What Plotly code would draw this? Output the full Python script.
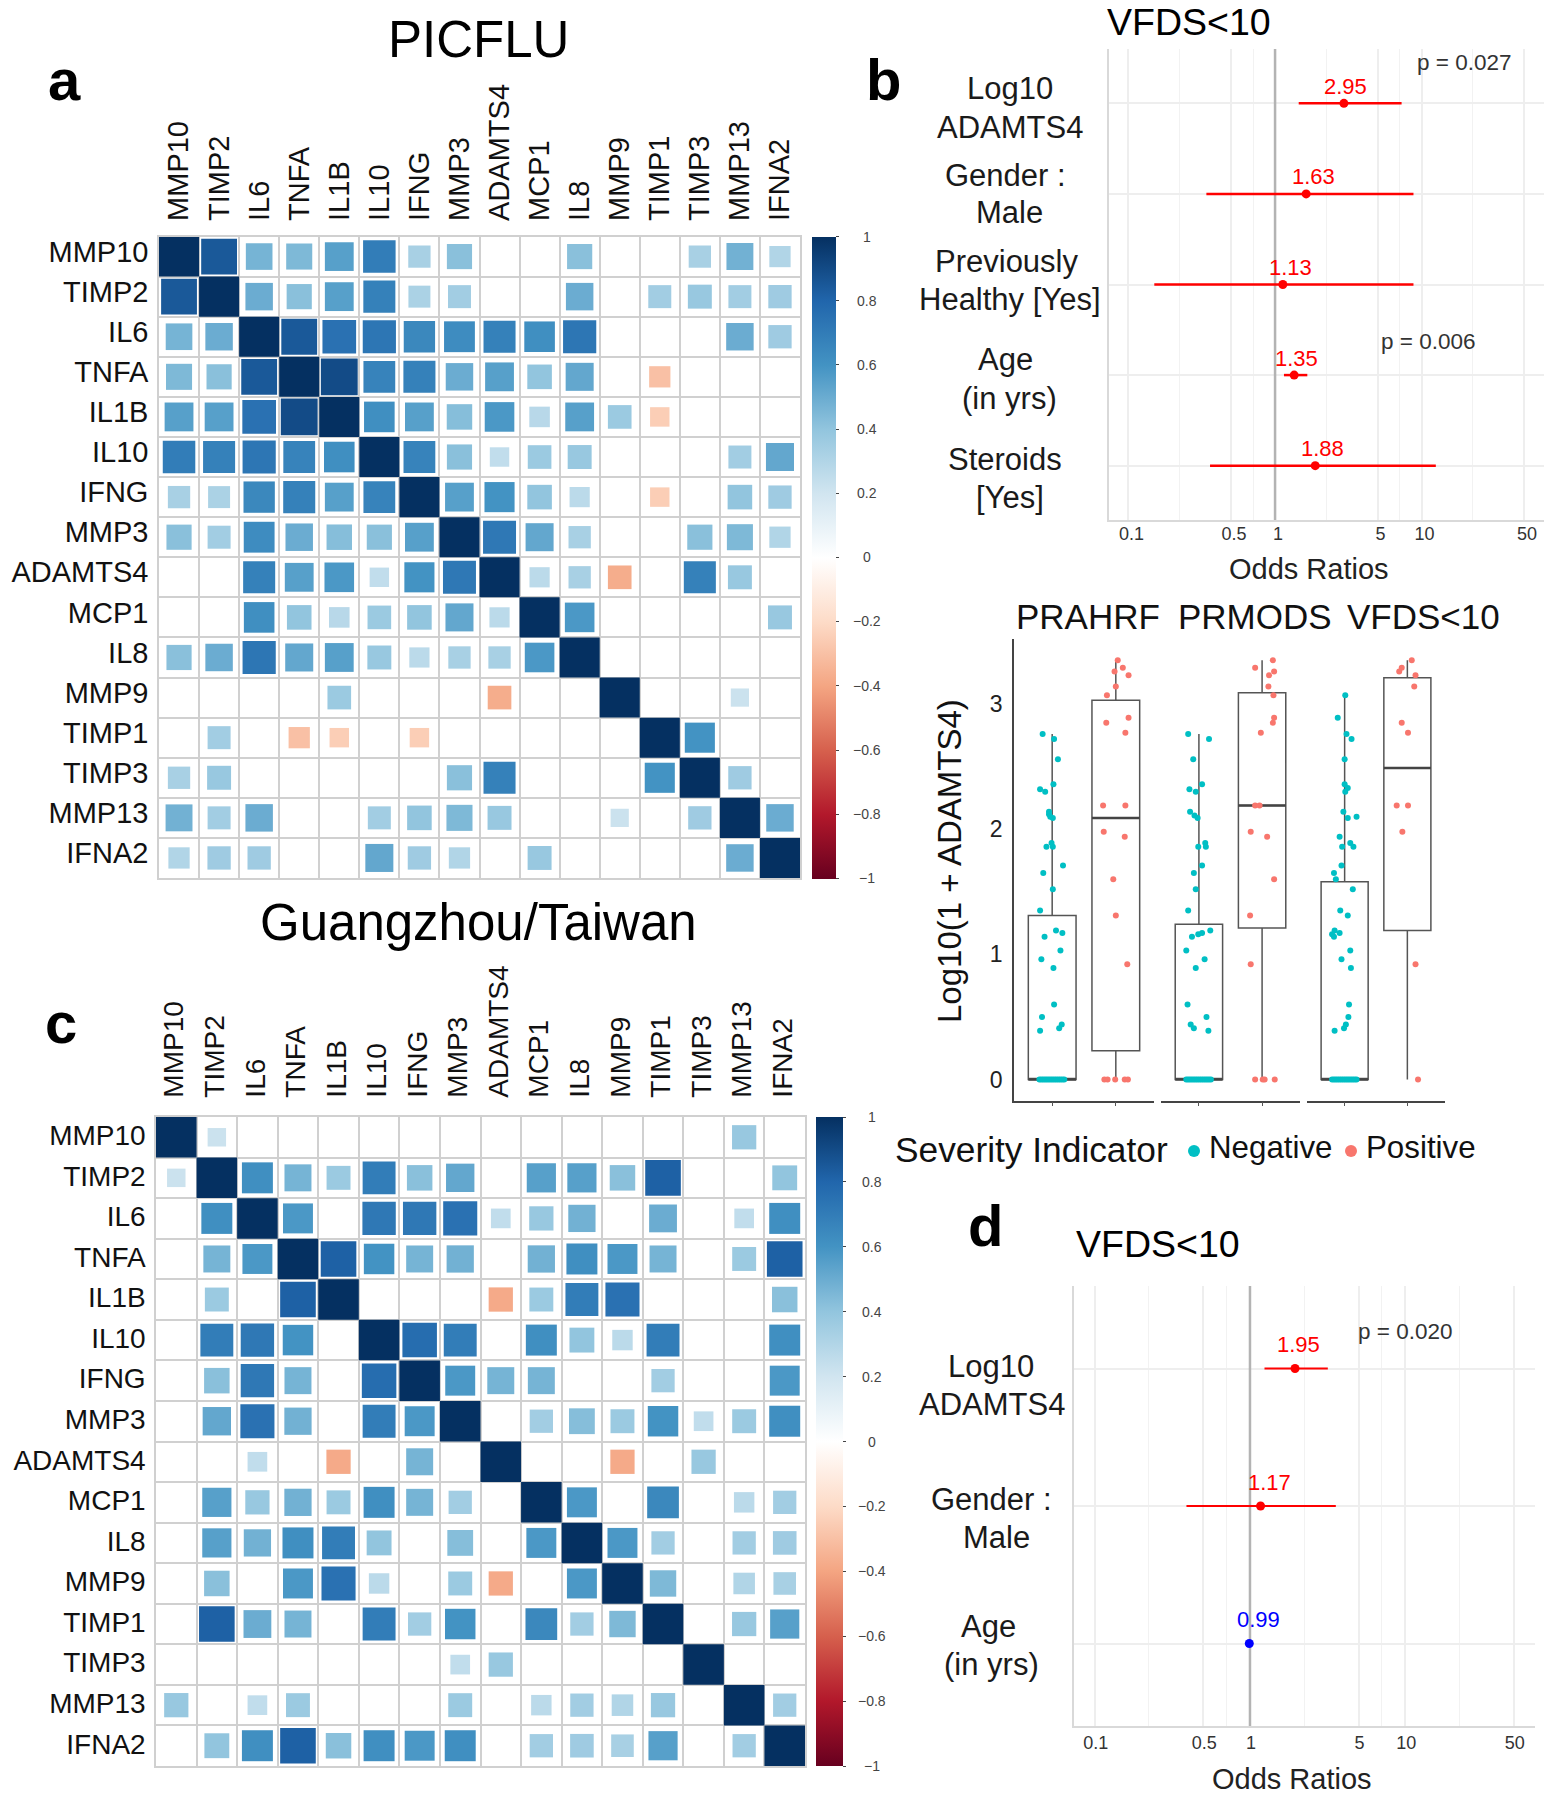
import math
import plotly.graph_objects as go

W, H = 1554, 1800

genes = ["MMP10", "TIMP2", "IL6", "TNFA", "IL1B", "IL10", "IFNG", "MMP3",
         "ADAMTS4", "MCP1", "IL8", "MMP9", "TIMP1", "TIMP3", "MMP13", "IFNA2"]

picflu_r = [
    [1, .85, .47, .45, .55, .70, .33, .42, 0, 0, .42, 0, 0, .33, .48, .30],
    [.85, 1, .50, .42, .55, .68, .32, .35, 0, 0, .50, 0, .35, .38, .35, .36],
    [.47, .50, 1, .85, .75, .73, .65, .63, .68, .62, .73, 0, 0, 0, .50, .36],
    [.45, .42, .85, 1, .90, .67, .68, .50, .55, .40, .52, 0, -.30, 0, 0, 0],
    [.55, .55, .75, .90, 1, .62, .55, .43, .58, .28, .55, .37, -.25, 0, 0, 0],
    [.70, .68, .73, .67, .62, 1, .67, .42, .25, .37, .38, 0, 0, 0, .35, .52],
    [.33, .32, .65, .68, .55, .67, 1, .55, .60, .40, .27, 0, -.25, 0, .40, .36],
    [.42, .35, .63, .50, .43, .42, .55, 1, .72, .52, .33, 0, 0, .42, .45, .30],
    [0, 0, .68, .55, .58, .25, .60, .72, 1, .27, .33, -.37, 0, .68, .38, 0],
    [0, 0, .62, .40, .28, .37, .40, .52, .27, 1, .58, 0, 0, 0, 0, .38],
    [.42, .50, .73, .52, .55, .38, .27, .33, .33, .58, 1, 0, 0, 0, 0, 0],
    [0, 0, 0, 0, .37, 0, 0, 0, -.37, 0, 0, 1, 0, 0, .22, 0],
    [0, .35, 0, -.30, -.25, 0, -.25, 0, 0, 0, 0, 0, 1, .60, 0, 0],
    [.33, .38, 0, 0, 0, 0, 0, .42, .68, 0, 0, 0, .60, 1, .36, 0],
    [.48, .35, .50, 0, 0, .35, .40, .45, .38, 0, 0, .22, 0, .36, 1, .50],
    [.30, .36, .36, 0, 0, .52, .36, .30, 0, .38, 0, 0, 0, 0, .50, 1],
]

guangzhou_r = [
    [1, .22, 0, 0, 0, 0, 0, 0, 0, 0, 0, 0, 0, 0, .38, 0],
    [.22, 1, .62, .47, .37, .70, .42, .52, 0, .55, .55, .42, .82, 0, 0, .40],
    [0, .62, 1, .58, 0, .72, .72, .75, .25, .38, .48, 0, .50, 0, .25, .62],
    [0, .47, .58, 1, .82, .60, .47, .48, 0, .48, .62, .58, .47, 0, .37, .82],
    [0, .37, 0, .82, 1, 0, 0, 0, -.38, .37, .70, .75, 0, 0, 0, .42],
    [0, .70, .72, .60, 0, 1, .77, .70, 0, .62, .40, .27, .70, 0, 0, .62],
    [0, .42, .72, .47, 0, .77, 1, .58, .47, .47, 0, 0, .35, 0, 0, .58],
    [0, .52, .75, .48, 0, .70, .58, 1, 0, .35, .43, .37, .60, .25, .37, .62],
    [0, 0, .25, 0, -.38, 0, .47, 0, 1, 0, 0, -.38, 0, .38, 0, 0],
    [0, .55, .38, .48, .37, .62, .47, .35, 0, 1, .58, 0, .65, 0, .27, .35],
    [0, .55, .48, .62, .70, .40, 0, .43, 0, .58, 1, .58, .35, 0, .35, .36],
    [0, .42, 0, .58, .75, .27, 0, .37, -.38, 0, .58, 1, .45, 0, .30, .33],
    [0, .82, .50, .47, 0, .70, .35, .60, 0, .65, .35, .45, 1, 0, .38, .55],
    [0, 0, 0, 0, 0, 0, 0, .25, .38, 0, 0, 0, 0, 1, 0, 0],
    [.38, 0, .25, .37, 0, 0, 0, .37, 0, .27, .35, .30, .38, 0, 1, .35],
    [0, .40, .62, .82, .42, .62, .58, .62, 0, .35, .36, .33, .55, 0, .35, 1],
]

corr_ticks = [1, .8, .6, .4, .2, 0, -.2, -.4, -.6, -.8, -1]
corr_tick_text = ["1", "0.8", "0.6", "0.4", "0.2", "0", "\u22120.2", "\u22120.4", "\u22120.6", "\u22120.8", "\u22121"]

or_ticks = [0.1, 0.5, 1, 5, 10, 50]
or_tick_text = ["0.1", "0.5", "1", "5", "10", "50"]
or_minor = [0.2236, 0.7071, 2.236, 7.071, 22.36]

b_or = [2.95, 1.63, 1.13, 1.35, 1.88]
b_lo = [1.45, 0.34, 0.15, 1.15, 0.36]
b_hi = [7.3, 8.8, 8.8, 1.66, 12.5]
b_labels = [["Log10", "ADAMTS4"], ["Gender :", "Male"], ["Previously", "Healthy [Yes]"],
            ["Age", "(in yrs)"], ["Steroids", "[Yes]"]]
d_or = [1.95, 1.17, 0.99]
d_lo = [1.24, 0.39, 0.98]
d_hi = [3.17, 3.57, 1.00]
d_colors = ["#ff0000", "#ff0000", "#0000ff"]
d_labels = [["Log10", "ADAMTS4"], ["Gender :", "Male"], ["Age", "(in yrs)"]]

facets = ["PRAHRF", "PRMODS", "VFDS<10"]
# box statistics per facet: [negative, positive]
box_q1 = [[0, .23], [0, 1.21], [0, 1.19]]
box_med = [[0, 2.09], [0, 2.19], [0, 2.49]]
box_q3 = [[1.31, 3.03], [1.24, 3.09], [1.58, 3.21]]
box_low = [[0, 0], [0, 0], [0, 0]]
box_high = [[2.76, 3.35], [2.76, 3.35], [3.07, 3.35]]

zero_jitter = [-.20, -.17, -.14, -.11, -.08, -.05, -.02, .01, .04, .07, .10, .13, .16, .19]

neg_jitter = [
    [-.15, .03, .09, -.19, -.11, .02, -.05, -.05, -.03, .01, -.01, -.09, .01, .17, -.14, .01, -.19, .06, .16, -.12,
     .13, -.17, .02, .03, -.16, .15, .11, -.19],
    [-.17, .16, -.09, -.15, -.05, .05, -.14, -.07, -.02, .10, -.01, .11, .05, -.08, -.05, -.17, .18, .05, -.01, -.11,
     -.20, .09, -.05, -.18, .12, -.13, -.08, .15],
    [.01, -.11, .03, .11, 0, 0, .05, .01, -.02, .19, .05, -.08, .09, -.04, .14, -.05, -.17, -.14, .13, -.07, .05,
     -.16, -.20, -.08, -.17, .09, -.05, .10, .07, .06, .02, -.01, -.16],
]
neg_values = [
    [2.76, 2.72, 2.56, 2.32, 2.30, 2.36, 2.14, 2.12, 2.10, 2.09, 1.89, 1.86, 1.86, 1.71, 1.65, 1.52, 1.35, 1.19, 1.17,
     1.14, 1.03, .96, .89, .60, .50, .44, .41, .39],
    [2.76, 2.72, 2.56, 2.32, 2.30, 2.36, 2.14, 2.11, 2.09, 1.89, 1.86, 1.86, 1.71, 1.65, 1.52, 1.35, 1.19, 1.17, 1.16,
     1.14, 1.03, .96, .89, .60, .50, .44, .41, .39],
    [3.07, 2.89, 2.76, 2.72, 2.56, 2.36, 2.33, 2.30, 2.14, 2.10, 2.09, 1.94, 1.89, 1.86, 1.86, 1.71, 1.65, 1.60, 1.52,
     1.35, 1.31, 1.19, 1.16, 1.17, 1.14, 1.03, .96, .89, .60, .50, .44, .41, .39],
]
pos_jitter = [
    [.03, .11, -.02, .20, 0, -.14, .20, -.15, .15, -.20, .15, -.19, .14, -.04, 0, .18, -.18, -.13, -.01, .14, .19],
    [.17, -.11, .19, .11, .10, .18, .19, .17, -.02, -.11, -.04, -.18, .08, .19, -.19, -.18, -.11, .01, .04, .20],
    [.07, -.09, -.13, .13, .11, -.09, .01, -.17, .01, -.08, .13, .17],
]
pos_values = [
    [3.35, 3.29, 3.26, 3.23, 3.14, 3.07, 2.89, 2.85, 2.77, 2.19, 2.19, 1.98, 1.94, 1.60, 1.31, .92, 0, 0, 0, 0, 0],
    [3.35, 3.29, 3.26, 3.23, 3.14, 3.07, 2.89, 2.85, 2.77, 2.19, 2.19, 1.98, 1.94, 1.60, 1.31, .92, 0, 0, 0, 0],
    [3.35, 3.29, 3.26, 3.23, 3.14, 2.85, 2.77, 2.19, 2.19, 1.98, .92, 0],
]

FONT = "Liberation Sans"
RDBU = [[0.0, "#67001F"], [0.1, "#B2182B"], [0.2, "#D6604D"], [0.3, "#F4A582"], [0.4, "#FDDBC7"], [0.5, "#FFFFFF"],
        [0.6, "#D1E5F0"], [0.7, "#92C5DE"], [0.8, "#4393C3"], [0.9, "#2166AC"], [1.0, "#053061"]]
TEAL, SALMON = "#00BFC4", "#F8766D"


def hdom(a, b):
    return [a / W, b / W]


def vdom(top, bottom):
    return [1 - bottom / H, 1 - top / H]


fig = go.Figure()
annotations = []
shapes = []


def text(s, x, y, size, color="#111111", bold=False, angle=0):
    annotations.append(dict(text=f"<b>{s}</b>" if bold else s, x=x / W, y=1 - y / H, xref="paper", yref="paper",
                            xanchor="center", yanchor="middle", showarrow=False, textangle=angle,
                            font=dict(family=FONT, size=size, color=color)))


def corr_panel(n, matrix, box, bar, label_size, col_size, col_standoff, col_shift, row_shift, bar_label_x):
    left, right, top, bottom = box
    cell = (right - left) / 16
    xs, ys, vals, sizes = [], [], [], []
    for i, row in enumerate(matrix):
        for j, v in enumerate(row):
            if v != 0:
                xs.append(j)
                ys.append(i)
                vals.append(v)
                sizes.append(cell * math.sqrt(abs(v)) * (1 if abs(v) == 1 else 0.97))
    suffix = "" if n == 1 else str(n)
    edges = [k - .5 for k in range(17)]
    fig.add_trace(go.Scatter(
        x=xs, y=ys, mode="markers", xaxis=f"x{suffix}", yaxis=f"y{suffix}", showlegend=False,
        marker=dict(symbol="square", size=sizes, color=vals, cmin=-1, cmax=1, colorscale=RDBU, line=dict(width=0),
                    opacity=1, showscale=True,
                    colorbar=dict(x=bar[0] / W, xanchor="left", xpad=0, ypad=0, thickness=bar[1] - bar[0],
                                  thicknessmode="pixels", lenmode="fraction", len=(bottom - top) / H,
                                  y=1 - top / H, yanchor="top", outlinewidth=0, tickvals=corr_ticks,
                                  showticklabels=False, ticks="outside", ticklen=3, tickcolor="#444444"))))
    for v, s in zip(corr_ticks, corr_tick_text):
        text(s, bar_label_x, top + (1 - v) / 2 * (bottom - top), 14, "#444444")
    common = dict(showgrid=False, zeroline=False, showline=True, linecolor="#d0d0d0", linewidth=1.5, mirror=True,
                  minor=dict(tickvals=edges, showgrid=True, gridcolor="#d0d0d0", gridwidth=1.5, ticks=""),
                  tickmode="array", tickvals=list(range(16)), ticktext=genes, ticks="", fixedrange=True)
    fig.layout[f"xaxis{suffix}"] = dict(domain=hdom(left, right), range=[-.5, 15.5], side="top", tickangle=-90,
                                        anchor=f"y{suffix}", ticklabelstandoff=col_standoff, ticklabelshift=col_shift,
                                        tickfont=dict(family=FONT, size=col_size, color="#111111"), **common)
    fig.layout[f"yaxis{suffix}"] = dict(domain=vdom(top, bottom), range=[15.5, -.5], anchor=f"x{suffix}",
                                        ticklabelstandoff=3, ticklabelshift=row_shift,
                                        tickfont=dict(family=FONT, size=label_size, color="#111111"), **common)


def forest_panel(n, ors, lows, highs, colors, box, label_y, label_x, tick_standoff, tick_shift, lw):
    left, right, top, bottom = box
    suffix = str(n)
    rows = list(range(len(ors)))
    fig.add_trace(go.Scatter(x=[1, 1], y=[-.6, len(ors) - .4], mode="lines", xaxis=f"x{suffix}", yaxis=f"y{suffix}",
                             showlegend=False, line=dict(color="#b3b3b3", width=2.5)))
    for r in rows:
        fig.add_trace(go.Scatter(x=[lows[r], highs[r]], y=[r, r], mode="lines", xaxis=f"x{suffix}", yaxis=f"y{suffix}",
                                 showlegend=False, line=dict(color=colors[r], width=lw)))
    fig.add_trace(go.Scatter(x=ors, y=rows, mode="markers", xaxis=f"x{suffix}", yaxis=f"y{suffix}", showlegend=False,
                             marker=dict(color=colors, size=9)))
    fig.layout[f"xaxis{suffix}"] = dict(
        type="log", domain=hdom(left, right), range=[-1.133, 1.835], anchor=f"y{suffix}", tickmode="array",
        tickvals=or_ticks, ticktext=or_tick_text, ticks="", showgrid=True, gridcolor="#eeeeee", gridwidth=1.5,
        zeroline=False, showline=True, linecolor="#d9d9d9", linewidth=2, ticklabelshift=tick_shift,
        ticklabelstandoff=tick_standoff,
        minor=dict(tickvals=or_minor, showgrid=True, gridcolor="#f2f2f2", gridwidth=1, ticks=""),
        tickfont=dict(family=FONT, size=18, color="#333333"), fixedrange=True)
    fig.layout[f"yaxis{suffix}"] = dict(
        domain=vdom(top, bottom), range=[len(ors) - .4, -.6], anchor=f"x{suffix}", tickmode="array", tickvals=rows,
        showticklabels=False, ticks="", showgrid=True, gridcolor="#eeeeee", gridwidth=1.5, zeroline=False,
        showline=True, linecolor="#d9d9d9", linewidth=2, fixedrange=True)
    for r in rows:
        annotations.append(dict(text=f"{ors[r]:.2f}", x=math.log10(ors[r]), y=r, xref=f"x{suffix}", yref=f"y{suffix}",
                                yshift=label_y, xshift=label_x[r], showarrow=False,
                                font=dict(family=FONT, size=22, color=colors[r])))


corr_panel(1, picflu_r, (159, 800, 236.5, 878), (812, 836), 29, 29, 8, 0, 5, 867)
corr_panel(2, guangzhou_r, (156, 805, 1117, 1766), (816, 843), 28, 28, 12, -2, 2, 872)

forest_panel(3, b_or, b_lo, b_hi, ["#ff0000"] * 5, (1109, 1544, 49, 520), 17, [2, 7, 8, 2, 7], -4, 3, 2.5)
forest_panel(4, d_or, d_lo, d_hi, d_colors, (1074, 1535, 1286, 1726), 24, [3, 9, 9], -1, 1, 2)

# box plots
facet_boxes = [(1014, 1154), (1161, 1300), (1307, 1445)]
for f, (a, b) in enumerate(facet_boxes):
    n = 5 + f
    for c in (0, 1):
        fig.add_trace(go.Box(x=[c], q1=[box_q1[f][c]], median=[box_med[f][c]], q3=[box_q3[f][c]],
                             lowerfence=[box_low[f][c]], upperfence=[box_high[f][c]], width=.75, whiskerwidth=0,
                             boxpoints=False, fillcolor="white", line=dict(color="#555555", width=1.5),
                             xaxis=f"x{n}", yaxis=f"y{n}", showlegend=False))
        fig.add_trace(go.Scatter(x=[c - .375, c + .375], y=[box_med[f][c]] * 2, mode="lines",
                                 line=dict(color="#444444", width=2.5), xaxis=f"x{n}", yaxis=f"y{n}", showlegend=False))
    fig.add_trace(go.Scatter(x=neg_jitter[f] + zero_jitter, y=neg_values[f] + [0] * len(zero_jitter), mode="markers",
                             marker=dict(color=TEAL, size=6), xaxis=f"x{n}", yaxis=f"y{n}", showlegend=False))
    fig.add_trace(go.Scatter(x=[1 + j for j in pos_jitter[f]], y=pos_values[f], mode="markers",
                             marker=dict(color=SALMON, size=6), xaxis=f"x{n}", yaxis=f"y{n}", showlegend=False))
    fig.layout[f"xaxis{n}"] = dict(domain=hdom(a, b), range=[-.6, 1.6], anchor=f"y{n}", tickmode="array", tickvals=[0, 1],
                                   showticklabels=False, ticks="outside", ticklen=4, tickcolor="#555555", showgrid=False,
                                   zeroline=False, showline=True, linecolor="#444444", linewidth=1.5, fixedrange=True)
    fig.layout[f"yaxis{n}"] = dict(domain=vdom(639, 1100.5), range=[-.168, 3.52], anchor=f"x{n}", tickmode="array",
                                   tickvals=[0, 1, 2, 3], showticklabels=(f == 0), ticks="", showgrid=False,
                                   zeroline=False, showline=(f == 0), linecolor="#444444", linewidth=1.5,
                                   ticklabelstandoff=5, fixedrange=True,
                                   tickfont=dict(family=FONT, size=23, color="#222222"))

# titles and labels
text("PICFLU", 479, 39, 51, "#000000")
text("Guangzhou/Taiwan", 479, 922, 51, "#000000")
text("VFDS&lt;10", 1189, 22, 37.5, "#000000")
text("VFDS&lt;10", 1158, 1244, 37.5, "#000000")
text("a", 64, 80, 58, "#000000", True)
text("b", 883, 80, 58, "#000000", True)
text("c", 61, 1022, 58, "#000000", True)
text("d", 985, 1225, 58, "#000000", True)

for (x, y, s) in [(1010, 89, b_labels[0][0]), (1010, 127, b_labels[0][1]), (1005, 176, b_labels[1][0]),
                  (1010, 213, b_labels[1][1]), (1006, 261, b_labels[2][0]), (1010, 299, b_labels[2][1]),
                  (1005, 360, b_labels[3][0]), (1010, 398, b_labels[3][1]), (1005, 460, b_labels[4][0]),
                  (1010, 498, b_labels[4][1]), (991, 1366, d_labels[0][0]), (992, 1404, d_labels[0][1]),
                  (991, 1499, d_labels[1][0]), (996, 1537, d_labels[1][1]), (988, 1626, d_labels[2][0]),
                  (991, 1664, d_labels[2][1])]:
    text(s, x, y, 31, "#1a1a1a")

text("Odds Ratios", 1309, 569, 29, "#222222")
text("Odds Ratios", 1292, 1779, 29, "#222222")
text("p = 0.027", 1464, 62, 22.5, "#333333")
text("p = 0.006", 1428, 342, 22.5, "#333333")
text("p = 0.020", 1405, 1331, 22.5, "#333333")

for f, cx in enumerate([1088, 1255, 1423]):
    text(facets[f].replace("<", "&lt;"), cx, 616, 35, "#111111")
text("Log10(1 + ADAMTS4)", 950, 861, 33, "#111111", angle=-90)
text("Severity Indicator", 1031, 1149, 35.3, "#111111")
text("Negative", 1271, 1147, 31.3, "#111111")
text("Positive", 1421, 1147, 31.3, "#111111")
for cx, col in [(1194, TEAL), (1351, SALMON)]:
    shapes.append(dict(type="circle", xref="paper", yref="paper", x0=(cx - 6) / W, x1=(cx + 6) / W,
                       y0=1 - 1157 / H, y1=1 - 1145 / H, fillcolor=col, line=dict(width=0)))

fig.update_layout(width=W, height=H, margin=dict(l=0, r=0, t=0, b=0), autosize=False, paper_bgcolor="white",
                  plot_bgcolor="white", showlegend=False, annotations=annotations, shapes=shapes,
                  font=dict(family=FONT), boxmode="overlay")

fig.write_html("out.html", config={"displayModeBar": False}, post_script="document.body.style.margin='0';")
